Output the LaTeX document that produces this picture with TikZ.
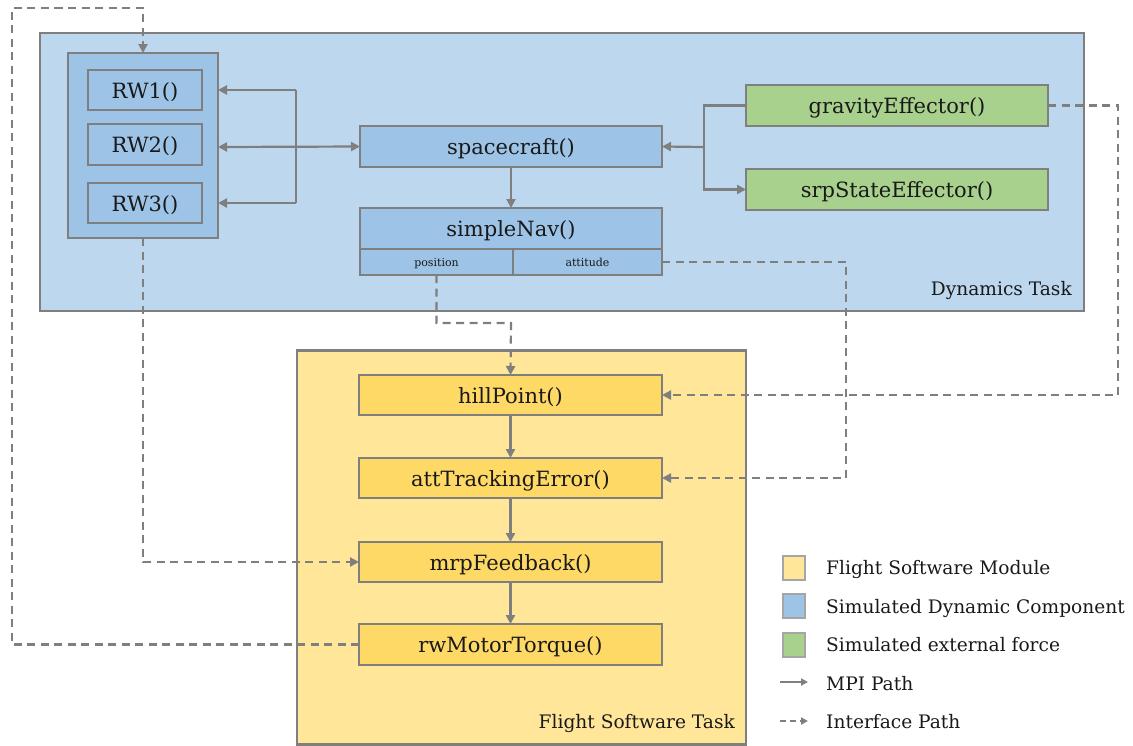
\documentclass[tikz,border=0pt]{standalone}
\usepackage{fontspec}
\setmainfont{DejaVu Serif}
\usetikzlibrary{arrows.meta,calc}
\definecolor{gry}{HTML}{7F7F7F}
\definecolor{dynbg}{HTML}{BDD7EE}
\definecolor{comp}{HTML}{9DC3E6}
\definecolor{grn}{HTML}{A9D18E}
\definecolor{fswbg}{HTML}{FFE699}
\definecolor{fsw}{HTML}{FFD966}
\tikzset{
  box/.style={draw=gry, line width=2.2pt, inner sep=0pt, outer sep=0pt, text=black!90,
    font=\fontsize{21}{25}\selectfont, text height=18pt, text depth=2pt},
  small/.style={box, font=\fontsize{11}{13}\selectfont, text height=10pt, text depth=0.5pt},
  lbl/.style={inner sep=0pt, text=black!90, font=\fontsize{18.6}{22}\selectfont, text height=15.5pt, text depth=2.5pt},
  mpi/.style={draw=gry, line width=2.2pt, -{Triangle[length=9pt,width=9pt]}},
  mpib/.style={draw=gry, line width=2.2pt, {Triangle[length=9pt,width=9pt]}-{Triangle[length=9pt,width=9pt]}},
  ifc/.style={draw=gry, line width=2.2pt, dash pattern=on 8pt off 5.5pt, -{Triangle[length=9pt,width=9pt]}},
}
\begin{document}
\begin{tikzpicture}[x=1pt,y=-1pt]
\useasboundingbox (0,0) rectangle (1133,745);
% task boxes
\node[box, fill=dynbg, minimum width=1044pt, minimum height=278pt] (dyn) at (562,172) {};
\node[lbl, anchor=east] (dynl) at (1072,289) {Dynamics Task};
\node[box, fill=fswbg, minimum width=449pt, minimum height=394pt] (fswt) at (521.5,547.5) {};
\node[lbl, anchor=east] (fswl) at (735,722) {Flight Software Task};
% reaction wheels
\node[box, fill=comp, minimum width=150pt, minimum height=185pt] (rwg) at (143,145.5) {};
\node[box, fill=comp, minimum width=114pt, minimum height=40pt] (rw1) at (145,90) {RW1()};
\node[box, fill=comp, minimum width=114pt, minimum height=41pt] (rw2) at (145,144.5) {RW2()};
\node[box, fill=comp, minimum width=114pt, minimum height=40pt] (rw3) at (145,203) {RW3()};
% spacecraft and nav
\node[box, fill=comp, minimum width=302pt, minimum height=41pt] (sc) at (511,146.5) {spacecraft()};
\node[box, fill=comp, minimum width=302pt, minimum height=41pt] (sn) at (511,228.5) {simpleNav()};
\node[small, fill=comp, minimum width=153pt, minimum height=26pt] (pos) at (436.5,262) {position};
\node[small, fill=comp, minimum width=149pt, minimum height=26pt] (att) at (587.5,262) {attitude};
% effectors
\node[box, fill=grn, minimum width=302pt, minimum height=41pt] (grav) at (897,105.5) {gravityEffector()};
\node[box, fill=grn, minimum width=302pt, minimum height=41pt] (srp) at (897,189.5) {srpStateEffector()};
% flight software
\node[box, fill=fsw, minimum width=303pt, minimum height=40pt] (hill) at (510.5,395) {hillPoint()};
\node[box, fill=fsw, minimum width=303pt, minimum height=40pt] (ate) at (510.5,478) {attTrackingError()};
\node[box, fill=fsw, minimum width=303pt, minimum height=40pt] (mrp) at (510.5,562) {mrpFeedback()};
\node[box, fill=fsw, minimum width=303pt, minimum height=41pt] (rwm) at (510.5,644.5) {rwMotorTorque()};
% MPI paths
\coordinate (j1) at (296,147);
\coordinate (j2) at (704,147);
\draw[mpib] (rwg.east |- j1) -- (sc.west);
\draw[mpi] (rw1.center -| j1) -- (rw1.center -| rwg.east);
\draw[mpi] (rw3.center -| j1) -- (rw3.center -| rwg.east);
\draw[draw=gry, line width=2.2pt] (rw1.center -| j1) -- (rw3.center -| j1);
\draw[mpi] (j2) -- (sc.east);
\draw[mpi] (grav.west) -| (j2 |- srp.west) -- (srp.west);
\draw[mpi] (sc.south) -- (sn.north);
\draw[mpi] (hill.south) -- (ate.north);
\draw[mpi] (ate.south) -- (mrp.north);
\draw[mpi] (mrp.south) -- (rwm.north);
% interface paths
\coordinate (c1) at (12,8);
\coordinate (c3) at (511,323);
\coordinate (c4) at (846,0);
\coordinate (c5) at (1118,0);
\draw[ifc] (rwm.west) -| (c1) -| (rwg.north);
\draw[ifc] (rwg.south) |- (mrp.west);
\draw[ifc] (pos.south) |- (c3) -- (hill.north);
\draw[ifc] (att.east) -| (c4 |- ate.east) -- (ate.east);
\draw[ifc] (grav.east) -| (c5 |- hill.east) -- (hill.east);
% legend
\node[draw=gry!70, line width=1.5pt, fill=fswbg, minimum width=22pt, minimum height=24pt, inner sep=0pt] (lg1) at (794,568) {};
\node[draw=gry!70, line width=1.5pt, fill=comp, minimum width=22pt, minimum height=24pt, inner sep=0pt] (lg2) at (794,606) {};
\node[draw=gry!70, line width=1.5pt, fill=grn, minimum width=22pt, minimum height=24pt, inner sep=0pt] (lg3) at (794,645) {};
\node[lbl, anchor=west] (lt1) at (826,568) {Flight Software Module};
\node[lbl, anchor=west] (lt2) at (826,607) {Simulated Dynamic Component};
\node[lbl, anchor=west] (lt3) at (826,645) {Simulated external force};
\node[lbl, anchor=west] (lt4) at (826,684) {MPI Path};
\node[lbl, anchor=west] (lt5) at (826,722) {Interface Path};
\coordinate (la1) at (780,682);
\coordinate (la2) at (808,682);
\coordinate (lb1) at (780,721);
\coordinate (lb2) at (808,721);
\draw[draw=gry, line width=1.8pt, -{Triangle[length=7pt,width=7pt]}] (la1) -- (la2);
\draw[draw=gry, line width=1.8pt, dash pattern=on 6pt off 4pt, -{Triangle[length=7pt,width=7pt]}] (lb1) -- (lb2);
\end{tikzpicture}
\end{document}
